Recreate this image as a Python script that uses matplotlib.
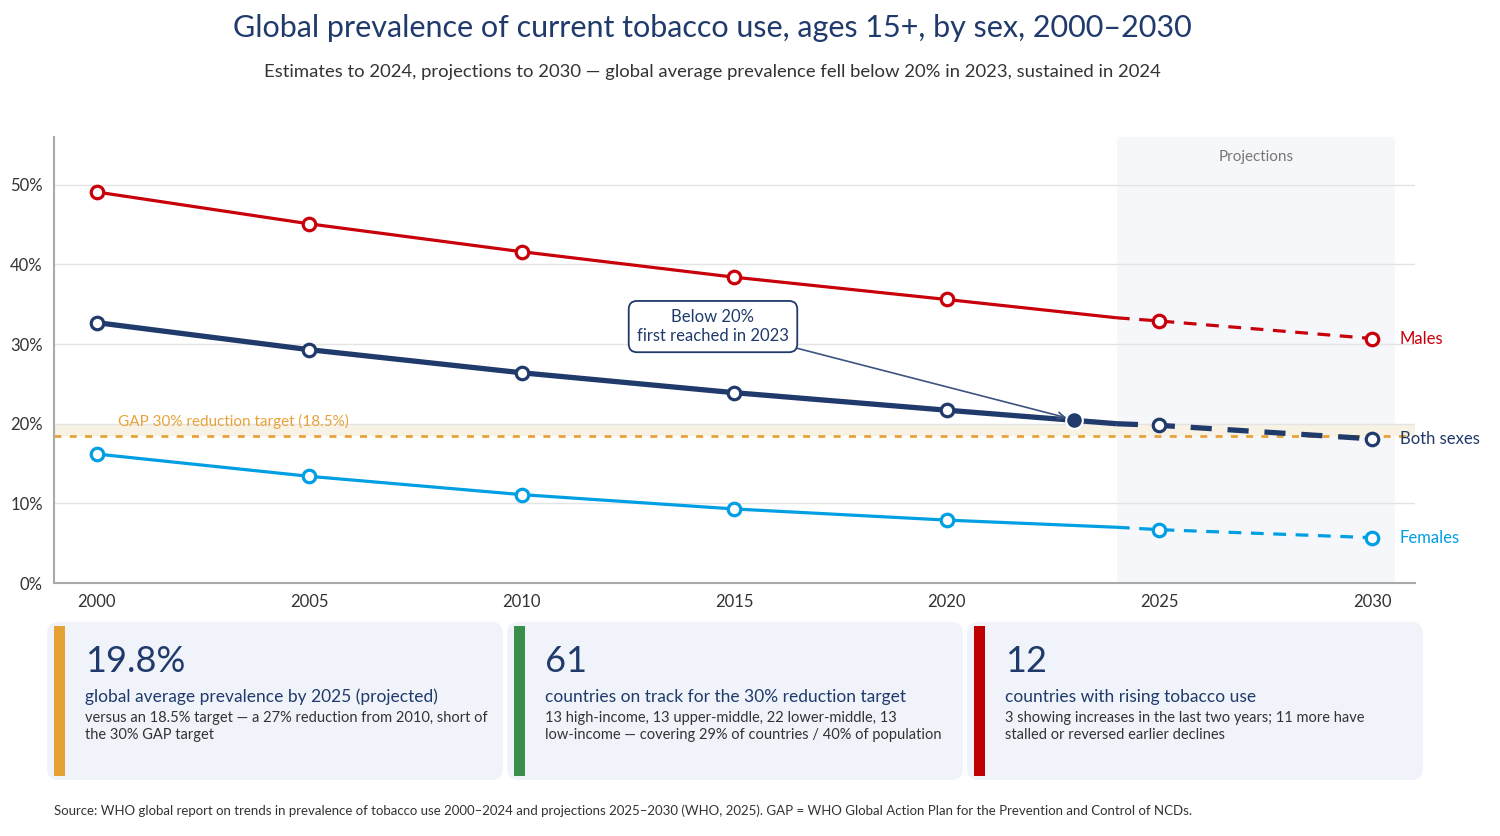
import textwrap
import matplotlib
matplotlib.use("Agg")
import matplotlib.pyplot as plt
from matplotlib.patches import FancyBboxPatch, Rectangle

plt.rcParams['font.family'] = ['Lato', 'DejaVu Sans']

# data
years_est = [2000, 2005, 2010, 2015, 2020, 2024]
years_proj = [2024, 2025, 2030]
males_est = [49.1, 45.1, 41.6, 38.4, 35.6, 33.3]
males_proj = [33.3, 32.9, 30.7]
both_est = [32.7, 29.3, 26.4, 23.9, 21.7, 20.0]
both_proj = [20.0, 19.8, 18.1]
females_est = [16.2, 13.4, 11.1, 9.3, 7.9, 7.0]
females_proj = [7.0, 6.7, 5.7]
marker_years = [2000, 2005, 2010, 2015, 2020]
gap_target = 18.5
milestone_year = 2023
milestone_value = 20.5
proj_start, proj_end = 2024, 2030.55

card_values = ['19.8%', '61', '12']
card_heads = ['global average prevalence by 2025 (projected)',
              'countries on track for the 30% reduction target',
              'countries with rising tobacco use']
card_notes = ['versus an 18.5% target — a 27% reduction from 2010, short of the 30% GAP target',
              '13 high-income, 13 upper-middle, 22 lower-middle, 13 low-income — covering 29% of countries / 40% of population',
              '3 showing increases in the last two years; 11 more have stalled or reversed earlier declines']
card_colors = ['#e3a232', '#3a8f4c', '#c00000']

RED = '#c8000a'
NAVY = '#1f3a6b'
CYAN = '#009fe3'
ORANGE = '#e8a23a'
GRAY = '#333333'

fig = plt.figure(figsize=(15, 8.36), dpi=100)

# background layer in pixel coords for the cards
bg = fig.add_axes([0, 0, 1, 1], zorder=0)
bg.set_xlim(0, 1500)
bg.set_ylim(836, 0)
bg.axis('off')

ax = fig.add_axes([0.036, 0.3026, 0.907, 0.5335], zorder=1)

series = [(males_est, males_proj, RED, 2.3, 'Males'),
          (both_est, both_proj, NAVY, 3.8, 'Both sexes'),
          (females_est, females_proj, CYAN, 2.3, 'Females')]

ax.axvspan(proj_start, proj_end, color='#f5f7fa', zorder=0, lw=0)
ax.text((proj_start + proj_end) / 2, 53.5, 'Projections', ha='center', va='center',
        fontsize=11, color='#777777')
ax.axhspan(gap_target, 20, color='#f8f2e4', zorder=0.5, lw=0)
ax.axhline(gap_target, color=ORANGE, lw=2, ls=(0, (2.5, 3)), zorder=1.5)
ax.text(2000.5, 19.4, 'GAP 30% reduction target (18.5%)', color=ORANGE,
        fontsize=11, ha='left', va='bottom')

for est, proj, col, lw, name in series:
    ax.plot(years_est, est, color=col, lw=lw, solid_capstyle='butt', zorder=3)
    ax.plot(years_proj, proj, color=col, lw=lw, ls=(0, (4, 3)), zorder=3)
    mv = [v for y, v in zip(years_est, est) if y in marker_years] + proj[1:]
    my = marker_years + years_proj[1:]
    ax.plot(my, mv, 'o', ms=9, mfc='white', mec=col, mew=2.3, zorder=4)
    ax.text(2030.65, proj[-1], name, color=col, fontsize=12, va='center', ha='left',
            clip_on=False)

ax.plot([milestone_year], [milestone_value], 'o', ms=12, color=NAVY, mec='white',
        mew=1.5, zorder=5)
ax.annotate('Below 20%\nfirst reached in 2023', xy=(milestone_year, milestone_value),
            xytext=(2014.5, 32.2), ha='center', va='center', fontsize=12, color=NAVY,
            bbox=dict(boxstyle='round,pad=0.5,rounding_size=0.5', fc='white', ec=NAVY, lw=1.3),
            arrowprops=dict(arrowstyle='->', color='#3d5480', lw=1.2,
                            shrinkA=0, shrinkB=6), zorder=6)

ax.set_xlim(1999, 2031)
ax.set_ylim(0, 56)
ax.set_xticks([2000, 2005, 2010, 2015, 2020, 2025, 2030])
ax.set_yticks([0, 10, 20, 30, 40, 50])
ax.set_yticklabels([f'{v}%' for v in [0, 10, 20, 30, 40, 50]])
ax.tick_params(length=0, labelsize=12, labelcolor=GRAY, pad=8)
ax.grid(axis='y', color='#e4e4e4', lw=1, zorder=0.2)
ax.set_axisbelow(True)
for s in ['top', 'right']:
    ax.spines[s].set_visible(False)
for s in ['left', 'bottom']:
    ax.spines[s].set_color('#aaaaaa')
    ax.spines[s].set_linewidth(1.5)

fig.text(0.475, 0.966, 'Global prevalence of current tobacco use, ages 15+, by sex, 2000–2030',
         ha='center', va='center', fontsize=22, color=NAVY)
fig.text(0.475, 0.914, 'Estimates to 2024, projections to 2030 — global average prevalence '
         'fell below 20% in 2023, sustained in 2024',
         ha='center', va='center', fontsize=13.3, color=GRAY)

# cards
for i in range(3):
    x0 = 47 + i * 460
    bg.add_patch(FancyBboxPatch((x0 + 8, 630), 440, 142,
                                boxstyle='round,pad=8,rounding_size=12',
                                fc='#f0f4fa', ec='none'))
    bg.add_patch(Rectangle((x0 + 7, 626), 11, 150, fc=card_colors[i], ec='none'))
    bg.text(x0 + 38, 661, card_values[i], fontsize=26, color=NAVY, va='center', ha='left')
    bg.text(x0 + 38, 697, card_heads[i], fontsize=12.5, color=NAVY, va='center', ha='left')
    note = textwrap.fill(card_notes[i], 60, break_on_hyphens=False)
    bg.text(x0 + 38, 711, note, fontsize=10.5, color=GRAY,
            va='top', ha='left', linespacing=1.3)

fig.text(0.036, 0.030, 'Source: WHO global report on trends in prevalence of tobacco use '
         '2000–2024 and projections 2025–2030 (WHO, 2025). GAP = WHO Global Action Plan '
         'for the Prevention and Control of NCDs.', fontsize=9.5, color=GRAY, ha='left',
         va='center')

fig.savefig('out.png', dpi=100)
